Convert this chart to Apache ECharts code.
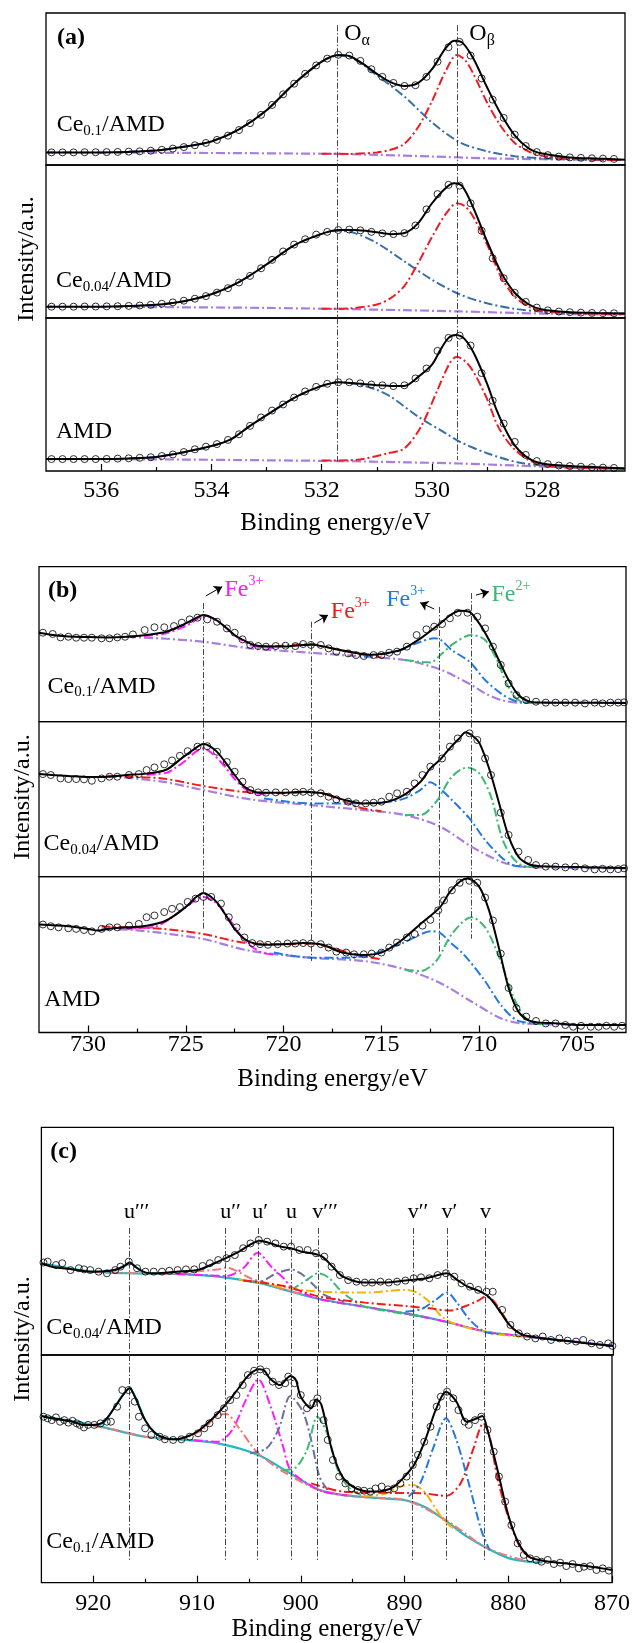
<!DOCTYPE html>
<html>
<head>
<meta charset="utf-8">
<script src="https://cdn.jsdelivr.net/npm/echarts@6/dist/echarts.min.js"></script>
<style>
html, body { margin: 0; padding: 0; background: #fff; }
#main { width: 633px; height: 1643px; }
</style>
</head>
<body>
<div id="main"></div>
<script>
var FONT = '"Liberation Serif", "Times New Roman", serif';

// ---------- (a) O 1s ----------
var aDotE = [536.9, 536.7, 536.5, 536.3, 536.1, 535.9, 535.7, 535.5, 535.3, 535.1, 534.9, 534.7, 534.5, 534.3, 534.1,
  533.9, 533.7, 533.5, 533.3, 533.1, 532.9, 532.7, 532.5, 532.3, 532.1, 531.9, 531.7, 531.5, 531.3, 531.1, 530.9,
  530.7, 530.5, 530.3, 530.1, 529.9, 529.7, 529.5, 529.3, 529.1, 528.9, 528.7, 528.5, 528.3, 528.1, 527.9, 527.7,
  527.5, 527.3, 527.1, 526.9, 526.7];
var a1Dots = [8.3, 8.3, 8.3, 8.4, 8.4, 8.5, 8.6, 8.8, 9.0, 9.4, 10.0, 10.8, 11.8, 13.0, 14.5, 16.5, 19.3, 23.0, 27.5,
  33, 39.5, 46.5, 53.5, 60, 65.5, 70, 72.5, 72, 68.5, 63, 58, 54, 52, 52.5, 58, 68, 77.5, 81, 72, 57, 43, 31, 20,
  12.5, 8.5, 6.5, 5.5, 5, 4.7, 4.4, 4.2, 4.0];
var a2Dots = [7.4, 7.4, 7.4, 7.5, 7.5, 7.6, 7.7, 7.9, 8.2, 8.6, 9.3, 10.2, 11.3, 12.6, 14.3, 16.6, 19.5, 23.2, 27.5,
  32.5, 38, 43.5, 48, 51.5, 54.5, 56.3, 57.5, 57.8, 57.3, 56.3, 55.3, 54.8, 55.5, 60.5, 71, 81, 87, 86.5, 75, 57, 39,
  26, 16.5, 10.5, 6.8, 5, 4.2, 3.8, 3.5, 3.3, 3.2, 3.1];
var a3Dots = [7.8, 7.8, 7.8, 7.8, 7.8, 7.9, 8.1, 8.3, 8.6, 9.0, 9.8, 10.8, 12.4, 14.2, 15.9, 17.6, 20.3, 24, 29.5, 35,
  39.5, 43.5, 48, 52, 55, 57, 58, 58, 57.3, 56.5, 56, 55.5, 56, 60.5, 67, 78.5, 87, 88.5, 82, 64, 46, 31, 19, 10.5,
  6.5, 4.5, 3.6, 3.2, 2.8, 2.5, 2.2, 2.0];

var a1Fit = [[537, 8.3], [536, 8.3], [535, 9.6], [534.5, 12], [534, 15.5], [533.5, 23.5], [533, 36], [532.5, 53.5],
  [532, 68], [531.7, 72.4], [531.5, 71.7], [531.25, 66.5], [531, 60], [530.75, 54.5], [530.5, 52], [530.25, 54],
  [530, 63], [529.75, 77], [529.6, 81.8], [529.45, 80.5], [529.25, 70], [529, 51], [528.75, 33.5], [528.5, 19.5],
  [528.25, 11], [528, 7.5], [527.5, 5], [527, 4.2], [526.5, 3.5]];
var a1Oa = [[535.5, 8.8], [535, 9.6], [534.5, 12], [534, 15.5], [533.5, 23.5], [533, 36], [532.5, 53.5], [532, 68],
  [531.7, 72], [531.4, 69.5], [531, 59], [530.5, 45], [530, 28], [529.5, 15], [529, 9], [528.5, 5.8], [528, 4.4],
  [527.5, 3.8], [527, 3.4], [526.5, 3.2]];
var a1Ob = [[532, 7.4], [531.5, 7.3], [531, 8.3], [530.75, 10], [530.5, 14], [530.25, 25], [530, 42], [529.75, 62],
  [529.55, 72.4], [529.4, 69], [529.25, 60], [529, 41], [528.75, 25.5], [528.5, 14.5], [528.25, 9], [528, 6],
  [527.5, 4.3], [527, 3.5], [526.5, 3.2]];
var a1Bg = [[537, 8.3], [534, 7.9], [532, 7.4], [531, 6.7], [530, 5.6], [529, 4.4], [528, 3.8], [526.5, 3.3]];

var a2Fit = [[537, 7.4], [536, 7.4], [535.5, 7.8], [535, 8.6], [534.5, 11], [534, 15.5], [533.5, 23.5], [533, 35],
  [532.5, 47.5], [532, 55], [531.7, 57.5], [531.4, 57.5], [531, 56], [530.75, 54.8], [530.5, 55.5], [530.25, 62],
  [530, 75], [529.75, 85], [529.6, 88], [529.45, 86], [529.25, 72], [529, 50], [528.75, 30], [528.5, 16.5],
  [528.25, 9], [528, 5.5], [527.5, 3.8], [527, 3.3], [526.5, 3]];
var a2Oa = [[535.5, 7.8], [535, 8.6], [534.5, 11], [534, 15.5], [533.5, 23.5], [533, 35], [532.5, 47.5], [532, 55],
  [531.7, 57], [531.4, 55.5], [531, 49], [530.5, 37], [530, 25], [529.5, 15.5], [529, 9.6], [528.5, 6], [528, 4.2],
  [527.5, 3.5], [527, 3.1], [526.5, 2.9]];
var a2Ob = [[532, 6], [531.5, 6.3], [531, 8.8], [530.75, 13], [530.5, 21], [530.25, 36], [530, 53], [529.75, 68],
  [529.55, 75], [529.4, 73], [529.25, 66], [529, 48], [528.75, 27], [528.5, 14], [528.25, 7.5], [528, 4.5],
  [527.5, 3.2], [527, 2.7], [526.5, 2.5]];
var a2Bg = [[537, 7.4], [535, 7.1], [533, 6.6], [531.7, 5.9], [530.5, 5.1], [529.5, 4.3], [528.5, 3.3], [527.5, 2.6],
  [526.5, 2.2]];

var a3Fit = [[537, 7.8], [536, 7.8], [535.5, 8.2], [535, 9.2], [534.5, 12.3], [534, 16.3], [533.65, 20.7],
  [533.3, 29.5], [532.85, 40], [532.45, 48.8], [532.05, 55], [531.7, 58], [531.4, 57.3], [531, 56.1], [530.7, 55.5],
  [530.5, 55.6], [530.25, 61.5], [530, 69.5], [529.85, 79], [529.7, 87], [529.57, 88.9], [529.42, 86.7],
  [529.24, 77], [529, 57], [528.83, 40], [528.6, 22.4], [528.43, 13.7], [528.2, 7.2], [527.95, 4.6], [527.5, 3.3],
  [527, 2.5], [526.5, 1.7]];
var a3Oa = [[535.5, 8.2], [535, 9.2], [534.5, 12.3], [534, 16.3], [533.65, 20.7], [533.3, 29.5], [532.85, 40],
  [532.45, 48.8], [532.05, 55], [531.7, 58], [531.4, 57], [531, 53], [530.75, 48.6], [530.25, 35.5], [529.75, 24.6],
  [529.5, 19.2], [529, 11.6], [528.4, 5.4], [527.5, 2.4], [527, 1.8], [526.5, 1.6]];
var a3Ob = [[532, 6.8], [531.4, 7.2], [530.8, 11.6], [530.5, 14.8], [530.2, 29], [529.9, 53], [529.68, 70.4],
  [529.55, 74.7], [529.31, 68.2], [529.02, 48.6], [528.8, 29], [528.55, 15.9], [528.25, 7.2], [527.9, 3.3],
  [527.5, 2.2], [527, 1.8], [526.5, 1.6]];
var a3Bg = [[537, 7.8], [535, 7.6], [533, 7.0], [531.7, 6.5], [530.5, 5.7], [529.5, 4.9], [528.5, 3.6], [527.5, 2.4],
  [526.5, 1.7]];

// ---------- (b) Fe 2p ----------
var b1Dots = [[732.3, 57.4], [731.8, 56.6], [731.4, 54.4], [731.0, 54.8], [730.6, 54.2], [730.2, 54.2], [729.8, 54.2],
  [729.3, 53.8], [728.9, 53.8], [728.5, 54.4], [728.1, 54.8], [727.7, 56.3], [727.1, 59.1], [726.6, 60.9],
  [726.1, 60.9], [725.6, 61.7], [725.2, 63.9], [724.8, 66.0], [724.4, 67.1], [723.9, 66.0], [723.4, 64.5],
  [722.9, 60.2], [722.5, 57.4], [722.1, 53.1], [721.7, 49.5], [721.3, 48.8], [720.9, 48.4], [720.4, 48.8],
  [719.9, 49.0], [719.4, 48.8], [719.0, 50.1], [718.6, 49.5], [718.1, 49.5], [717.7, 47.3], [717.3, 45.2],
  [716.7, 44.1], [716.3, 43.0], [715.9, 42.4], [715.4, 43.0], [715.0, 43.0], [714.6, 44.5], [714.2, 45.2],
  [713.7, 48.4], [713.2, 55.9], [712.7, 59.6], [712.3, 61.3], [711.9, 63.0], [711.5, 66.7], [711.1, 70.3],
  [710.6, 70.3], [710.1, 67.7], [709.7, 60.2], [709.3, 48.4], [708.9, 36.6], [708.5, 24.7], [708.1, 17.2],
  [707.6, 14.0], [707.1, 12.9], [706.6, 12.3], [706.1, 12.3], [705.6, 12.3], [705.1, 12.3], [704.6, 11.8],
  [704.1, 12.3], [703.7, 11.8], [703.3, 12.3], [702.9, 12.3], [702.6, 12.5]];
var b1Fit = [[732.5, 57.4], [731.5, 55.5], [730, 54.6], [729, 54.4], [728, 54.8], [727, 56], [726, 58], [725, 63.4],
  [724.5, 66.7], [724.1, 68.8], [723.5, 66], [723, 61.3], [722.5, 55.9], [722, 52.3], [721.5, 49.5], [721, 48.6],
  [720, 48.5], [719, 49.5], [718.5, 49.6], [718, 48.6], [717, 46], [716, 43.7], [715.5, 43.2], [715, 43.7],
  [714, 46.4], [713, 53.8], [712, 63.4], [711.5, 68.5], [711, 71.6], [710.5, 70.8], [710, 63.4], [709.5, 52.7],
  [709, 39.8], [708.5, 26.9], [708, 17.2], [707.5, 13.3], [707, 12.4], [706, 12.3], [704, 12.3], [702.5, 12]];
var b1Bg = [[728, 54.8], [726, 53.5], [724.1, 51.6], [721.7, 47.3], [718.6, 44.5], [715.9, 41.9], [713.8, 39.8],
  [712, 33.8], [711.2, 29], [710.4, 23.7], [709.7, 18.3], [708.9, 14], [707.9, 12.3], [702.5, 12.3]];
var b1Sat1 = [[728, 54.8], [727, 55.5], [726, 57], [725, 61.7], [724.5, 65.5], [724.1, 68.2], [723.6, 66.5],
  [723, 61.3], [722.3, 53.8], [721.7, 49.5], [721.3, 48.4], [720.5, 47.6]];
var b1Sat2 = [[721.3, 48.4], [720.5, 48.6], [719.5, 49.6], [718.6, 50.1], [718, 48.6], [717, 46], [716.2, 43.8],
  [715.5, 42.5], [715, 41.5]];
var b1Fe3 = [[715.9, 42], [714.3, 45], [713, 51.6], [712.3, 53.8], [712, 53.1], [711.4, 46.2], [710.5, 38.7],
  [709.7, 26.9], [708.9, 18.3], [708.3, 14], [707.6, 12.3], [707, 12.3]];
var b1Fe2 = [[713.8, 39.8], [712.9, 38.5], [712.5, 38.2], [711.9, 44], [711.3, 50.5], [710.4, 55.9], [709.7, 52.7],
  [709.1, 39.8], [708.6, 24.7], [708.1, 15], [707.6, 12.3], [707, 12.3]];

var b2Dots = [[732.3, 66.2], [731.9, 65.6], [731.4, 63.4], [731.0, 63.0], [730.6, 63.0], [730.2, 62.8], [729.8, 61.9],
  [729.3, 63.4], [728.9, 64.5], [728.5, 64.5], [727.9, 65.6], [727.4, 66.2], [727.0, 68.8], [726.6, 70.5],
  [726.1, 72.5], [725.7, 75], [725.3, 78], [724.9, 81], [724.4, 83.9], [723.9, 84.2], [723.4, 80.6], [722.9, 74],
  [722.5, 67.7], [722.1, 61.3], [721.7, 55.9], [721.3, 54.4], [720.9, 54.2], [720.4, 54.4], [719.9, 54.4],
  [719.4, 54.4], [719.0, 54.8], [718.6, 54.4], [718.1, 53.8], [717.7, 51.6], [717.3, 49.9], [716.7, 48.4],
  [716.3, 47.3], [715.8, 47.3], [715.4, 47.7], [715.0, 48.4], [714.6, 51.6], [714.2, 53.8], [713.7, 54.8],
  [713.3, 60.2], [712.9, 65.6], [712.5, 71], [711.9, 76.3], [711.5, 83.9], [711.1, 89.2], [710.5, 92.5],
  [710.1, 88.2], [709.7, 76.3], [709.4, 65.6], [708.9, 41.3], [708.5, 26.9], [708.0, 16.1], [707.5, 10.8],
  [707.1, 7.5], [706.6, 6.5], [706.1, 6.5], [705.6, 6.0], [705.1, 6.5], [704.6, 5.4], [704.1, 4.7], [703.7, 5.1],
  [703.3, 4.7], [702.9, 4.9], [702.6, 5.4]];
var b2Fit = [[732.5, 66.2], [731, 65], [730, 64.3], [729, 64.5], [728, 65.6], [727, 66.5], [726, 69], [725.2, 76.5],
  [724.6, 82], [724.1, 85.6], [723.5, 81.7], [723, 74.2], [722.5, 65.6], [722, 58], [721.5, 54.8], [721, 54.2],
  [720, 54.2], [719, 54.8], [718, 53.8], [717, 49.9], [716, 47.3], [715, 47.7], [714, 51.6], [713, 61.3],
  [712.5, 69.9], [712, 75.5], [711.5, 83], [711, 89.5], [710.7, 93.2], [710.3, 90.5], [710, 86.5], [709.5, 70],
  [709, 48], [708.5, 26], [708, 13], [707.5, 8.2], [707, 6.9], [706, 6.5], [704, 6], [702.5, 5.6]];
var b2Bg = [[729, 65], [726.2, 61.3], [724.1, 55.9], [721.7, 49.9], [718.6, 46.2], [715.9, 43], [713.8, 39.8],
  [712, 32.3], [710.4, 19.4], [708.9, 9.7], [707.8, 6.5], [702.5, 5.4]];
var b2Sat1 = [[727, 65.8], [726, 67], [725.5, 70.5], [725, 75], [724.5, 80.5], [724.1, 82.8], [723.6, 79], [723, 71],
  [722.5, 63], [722, 57], [721.4, 53.5], [720.8, 53.5]];
var b2Sat2 = [[729, 65.2], [728, 64.5], [726.2, 63.4], [724.1, 58.5], [722.1, 54.8], [720, 53.8], [718.6, 54.4],
  [717.7, 52.5], [716.9, 48.4], [716.3, 45.2], [715.5, 43], [715, 42.3]];
var b2Fe3 = [[721, 50.5], [719.5, 48], [718.6, 47.3], [716.7, 47.3], [715.5, 47.5], [714.5, 48.5], [713.8, 50.5],
  [713, 56], [712.5, 61], [712.1, 58], [711.4, 49.5], [710.5, 37.6], [709.7, 23.7], [708.9, 12.9], [708.3, 7.5],
  [707.6, 6.5], [707, 6.3]];
var b2Fe2 = [[713.8, 39.8], [713, 39.8], [712.2, 48.4], [711.4, 64.5], [710.6, 70.5], [710, 66.7], [709.4, 51.6],
  [708.8, 23.7], [708.2, 10.8], [707.6, 6.5], [707, 6.3]];

var b3Dots = [[732.3, 69.3], [731.9, 68.2], [731.5, 67.5], [731.0, 66.9], [730.6, 66.5], [730.2, 65.8], [729.8, 64.9],
  [729.3, 66.5], [728.9, 67.5], [728.5, 67.5], [727.9, 68.6], [727.4, 69.7], [727.0, 74.0], [726.6, 75.1],
  [726.1, 77.3], [725.7, 79.4], [725.3, 80.5], [724.9, 83.8], [724.5, 85.9], [724.1, 87.0], [723.7, 87.0],
  [723.2, 82.7], [722.8, 74.0], [722.4, 67.5], [722.0, 61.0], [721.6, 57.4], [721.2, 56.7], [720.8, 56.3],
  [720.3, 56.7], [719.8, 57.1], [719.4, 57.1], [719.0, 57.4], [718.6, 57.1], [718.1, 56.7], [717.7, 54.5],
  [717.3, 51.9], [716.8, 51.3], [716.4, 50.2], [715.9, 50.2], [715.5, 50.6], [715.0, 51.3], [714.6, 54.5],
  [714.2, 57.8], [713.7, 61.0], [713.3, 63.2], [712.9, 68.6], [712.5, 72.3], [712.1, 78.4], [711.8, 84.8],
  [711.4, 91.3], [711.0, 96.1], [710.5, 97.4], [710.1, 96.1], [709.7, 86.6], [709.3, 71.9], [708.9, 50.6],
  [708.5, 28.6], [708.1, 15.6], [707.6, 10.2], [707.1, 7.4], [706.6, 5.8], [706.1, 5.8], [705.6, 4.8], [705.2, 3.7],
  [704.8, 4.3], [704.3, 3.7], [703.9, 3.7], [703.5, 4.3], [703.1, 3.7], [702.7, 4.3]];
var b3Fit = [[732.5, 69.3], [731, 68.2], [730, 66.5], [729.5, 65.4], [729, 66.5], [728, 67.5], [727, 68.5], [726, 71.9],
  [725, 80.5], [724.5, 86.6], [724.1, 89.6], [723.5, 84.8], [723, 76.2], [722.5, 66.5], [722, 60], [721.5, 57.1],
  [721, 56.3], [720, 56.7], [719, 57.4], [718, 56.3], [717, 51.3], [716, 49.8], [715, 51.3], [714, 58.9], [713, 69.7],
  [712, 80.5], [711.5, 90.3], [711, 96.8], [710.6, 98.9], [710, 93.5], [709.5, 78.4], [709, 54.5], [708.5, 28.6],
  [708, 13.4], [707.5, 8], [707, 6.5], [706, 5.8], [705, 4.8], [702.5, 4.8]];
var b3Bg = [[729.3, 66.5], [727.7, 65.8], [725.8, 63.2], [724.1, 60], [721.7, 52.4], [718.6, 48], [715.9, 45.9],
  [713.8, 40.5], [712, 31.8], [710.4, 19.9], [708.9, 9.1], [707.8, 5.8], [702.5, 4.8]];
var b3Sat1 = [[728, 66.8], [726.6, 67.8], [725.8, 73], [725, 80.5], [724.1, 87], [723.4, 82.7], [722.6, 69.7],
  [721.9, 57.8], [721.1, 51.3], [720.5, 50]];
var b3Sat2 = [[729.3, 68], [727.7, 67.5], [726.2, 66.5], [724.1, 63.2], [722.1, 57.8], [720, 56.7], [718.6, 57.1],
  [717.3, 53.5], [716.3, 50.2], [715.5, 48], [715, 47]];
var b3Fe3 = [[720.5, 51.3], [718.6, 48], [716.7, 48], [715.5, 50.2], [714, 57], [713, 63], [712.5, 65], [712, 64],
  [711.5, 58], [710.8, 50.2], [709.7, 32.9], [708.9, 17.7], [708.1, 8], [707.2, 5.8], [706.5, 5.5]];
var b3Fe2 = [[713.8, 40.5], [713, 39.4], [712.2, 45.9], [711.4, 63.2], [710.4, 74], [709.7, 67.5], [708.9, 45.9],
  [708.3, 24.2], [707.7, 10.2], [707.1, 5.8], [706.5, 5.5]];

// ---------- (c) Ce 3d ----------
var c1Dots = [[924.8, 40.6], [924.4, 41.0], [923.6, 39.5], [923.0, 40.3], [922.2, 37.3], [921.4, 38.1], [920.9, 37.6],
  [920.3, 37.3], [919.5, 36.6], [918.7, 35.9], [917.9, 37.3], [917.4, 38.8], [916.6, 41.0], [915.8, 38.1],
  [915.0, 36.6], [914.2, 36.6], [913.4, 36.6], [912.7, 37.0], [911.9, 37.3], [911.1, 37.6], [910.3, 37.6],
  [909.5, 39.1], [908.8, 40.3], [908.0, 41.7], [907.2, 42.5], [906.4, 43.9], [905.6, 46.9], [904.9, 49.0],
  [904.1, 50.5], [903.3, 49.8], [902.5, 49.0], [901.7, 47.6], [901.0, 47.6], [900.2, 46.1], [899.4, 46.1],
  [898.6, 44.7], [897.8, 43.2], [897.1, 38.8], [896.3, 35.1], [895.5, 32.9], [894.7, 32.2], [893.9, 31.8],
  [893.2, 31.8], [892.4, 32.2], [891.6, 31.8], [890.8, 32.2], [890.0, 32.7], [889.2, 33.7], [888.5, 34.1],
  [887.7, 33.7], [886.9, 35.1], [886.1, 35.9], [885.3, 34.4], [884.6, 31.5], [883.8, 30.0], [883.0, 28.6],
  [882.2, 27.8], [881.6, 27.8], [880.7, 19.8], [879.9, 13.2], [879.1, 9.5], [878.3, 8.1], [877.5, 7.3], [876.8, 8.1],
  [876.0, 6.6], [875.2, 7.3], [874.4, 6.3], [873.6, 5.9], [872.9, 6.6], [872.1, 5.1], [871.3, 4.4], [870.5, 5.1],
  [870.1, 4.0]];
var c1Fit = [[925, 40.3], [924, 38.8], [922, 37.6], [920, 36.6], [918, 37.3], [917, 39.1], [916.5, 40.6], [916, 38.8],
  [915, 36.3], [914, 35.9], [912, 36.6], [910, 37.3], [908, 41], [906, 45.4], [905, 48.3], [904, 50.2], [903, 49.1],
  [902, 47.6], [901, 46.9], [900, 45.4], [899, 44.7], [898, 43.2], [897, 38.8], [896, 34.4], [894, 31.8], [892, 31.8],
  [890, 32.7], [888, 33.7], [886.5, 35.6], [886, 35.9], [885, 32.9], [884, 30], [883, 28.3], [882, 25.6], [881, 19.8],
  [880, 13.2], [879, 9.5], [878, 8.1], [876, 6.9], [874, 5.9], [872, 4.8], [870, 4]];
var c1Bg = [[925, 40.3], [920, 36.6], [916.5, 35.9], [912.3, 35.6], [908, 34.4], [904, 31.5], [901, 27.8], [898.2, 24.5],
  [893.9, 21.2], [889.2, 17.6], [886.1, 14.6], [882.3, 10.2], [879.9, 8.8], [876, 6.9], [870, 4]];
var c1U3 = [[919, 36.5], [918, 37.2], [917.5, 38.2], [917, 39.5], [916.5, 40.7], [916, 39], [915.5, 37], [915, 36],
  [914, 35.7]];
var c1U2 = [[920, 36.6], [916, 35.9], [912, 35.6], [910.3, 36.6], [908, 37.6], [907.3, 38.4], [906.4, 37.3],
  [904.9, 33.7], [903.3, 31.5], [902, 29.2], [900, 26.8]];
var c1U1 = [[912, 35.6], [909, 35], [907.2, 34.7], [905.6, 38.1], [904.2, 44.9], [902.9, 38.8], [901.7, 33.7],
  [901, 30], [899.5, 26.5], [898, 24.3], [894, 21.2], [890, 18.2], [886, 14.5], [882, 10], [878, 8], [874, 6],
  [870, 4]];
var c1U = [[905, 32.5], [904.1, 32.2], [902.5, 35.6], [901, 37.6], [900, 35.6], [899, 31.5], [897.8, 26.4],
  [895.9, 23.5]];
var c1V3 = [[901, 28.5], [899.4, 33.2], [898.4, 35.9], [897.4, 34.1], [896.3, 28.6], [895.1, 24.2], [893.9, 21.2],
  [890, 18], [888, 16.6]];
var c1V2 = [[906, 33.2], [904, 31.8], [901.7, 29.7], [898.2, 27.8], [893.9, 27.4], [890, 28.6], [888.9, 27.4],
  [887.7, 23.4], [886.5, 16.8], [885, 13.2], [883, 11], [880.7, 8.8], [878, 8]];
var c1V = [[905.6, 32.7], [901.7, 30.3], [898.2, 25.6], [893.9, 23], [890, 21.5], [887.7, 20.5], [885.7, 19.5],
  [884.2, 21.5], [883, 23.9], [882.3, 25.6], [881.6, 24.2], [880.7, 18.3], [879.7, 11.7], [878.7, 8.8], [877.5, 8.1]];
var c1V1 = [[890, 19], [888.5, 20.1], [887.1, 24.2], [886, 27.4], [885, 22.7], [883.8, 15.4], [882.4, 10.2],
  [881, 9.2]];

var c2Dots = [[924.8, 72.9], [924.4, 72.2], [924.0, 71.4], [923.6, 72.6], [923.2, 70.7], [922.8, 71.4], [922.4, 70.3],
  [922.0, 71.1], [921.6, 70.0], [921.3, 69.3], [920.9, 68.2], [920.5, 69.3], [919.9, 69.3], [919.3, 70.0],
  [918.7, 70.7], [918.3, 70.7], [917.7, 77.3], [917.2, 84.6], [916.6, 84.6], [916.0, 79.5], [915.6, 72.9],
  [915.0, 67.8], [914.4, 64.9], [913.6, 64.1], [913.1, 63.0], [912.3, 62.7], [911.5, 63.0], [910.7, 64.1],
  [909.9, 65.6], [909.3, 67.8], [908.8, 70.0], [908.0, 73.6], [907.4, 76.6], [906.8, 80.2], [906.2, 82.4],
  [905.6, 86.8], [905.1, 91.2], [904.5, 93.1], [903.9, 93.7], [903.3, 92.7], [902.7, 88.3], [902.1, 86.8],
  [901.5, 87.6], [901.2, 90.5], [900.6, 87.6], [900.0, 82.4], [899.4, 76.6], [898.8, 78.8], [898.4, 81.0],
  [897.8, 71.4], [897.4, 62.7], [896.9, 53.9], [896.3, 46.6], [895.7, 43.6], [895.1, 41.4], [894.5, 40.7],
  [893.9, 40.4], [893.3, 40.0], [892.8, 41.4], [892.2, 42.2], [891.6, 41.0], [891.0, 41.4], [890.4, 43.6],
  [889.8, 46.6], [889.2, 51.7], [888.7, 56.1], [888.1, 61.9], [887.5, 68.5], [886.9, 77.3], [886.5, 81.7],
  [885.9, 83.9], [885.3, 81.0], [884.8, 75.8], [884.2, 70.7], [883.8, 69.3], [883.2, 71.4], [882.6, 72.9],
  [882.0, 67.1], [881.4, 57.5], [880.9, 46.6], [880.3, 35.6], [879.7, 25.3], [879.1, 17.3], [878.5, 12.2],
  [877.9, 10.7], [877.3, 10.0], [876.8, 9.2], [876.2, 10.0], [875.6, 8.2], [875.0, 8.8], [874.4, 7.3], [873.8, 8.2],
  [873.2, 6.3], [872.7, 7.0], [872.1, 7.3], [871.5, 5.6], [870.9, 6.3], [870.3, 5.3]];
var c2Fit = [[925, 73.2], [924, 72.2], [922, 70.7], [921, 69.3], [920, 69.3], [919, 70.7], [918, 76.6], [917, 83.2],
  [916.5, 85.4], [916, 81.7], [915, 71.4], [914, 65.6], [913, 63.4], [912, 63], [911, 64.1], [910, 66.3], [909, 70],
  [908, 74.4], [907, 79.5], [906, 85.4], [905, 91.2], [904, 93.7], [903.5, 93.1], [903, 89.8], [902, 86.8],
  [901, 90.8], [900.5, 89.3], [900, 81.7], [899, 76.6], [898.5, 80.5], [898, 78], [897, 58.3], [896, 46.6],
  [895, 42.2], [894, 40.4], [893, 40], [892, 40.4], [891, 42.2], [890, 46.6], [889, 52.4], [888, 62.7], [887, 75.8],
  [886, 83.9], [885, 79.5], [884, 70.7], [883, 72.2], [882.5, 73.2], [882, 67.1], [881, 48.8], [880, 29.7],
  [879, 17.3], [878, 11.4], [877, 10], [876, 9.2], [874, 8.2], [872, 7], [870, 5.6]];
var c2Bg = [[925, 73.2], [920, 69.3], [918, 67.1], [915, 64.1], [912, 63], [908, 61.2], [904.1, 56.1], [901, 48],
  [898.2, 40.7], [895.9, 38.5], [892, 37], [890, 36.3], [888.1, 33.4], [886.1, 27.5], [884.2, 20.9], [882, 15.1],
  [879.9, 10.7], [878, 9.2], [876.7, 8.8]];
var c2U3 = [[920, 69.3], [919, 70.3], [918, 76.6], [917.3, 81.7], [916.5, 85.4], [915.8, 80.2], [915, 71.4],
  [914.2, 66.3], [913, 63.4], [912, 63]];
var c2U2 = [[920, 68.8], [918, 67.3], [915, 64.1], [911.9, 63], [909.5, 67.1], [908, 73.6], [907.2, 74.1], [906, 68.2],
  [904.9, 61.2], [904.1, 56.8], [901.7, 48.8], [898.2, 40.7], [894, 37.6], [890, 36.3], [886, 27.5], [882, 15.1],
  [878, 9.2]];
var c2U1 = [[910.3, 62.7], [908, 61.9], [906.6, 67.1], [905.3, 80.2], [904.1, 89.3], [902.9, 77.3], [901.7, 59.7],
  [901, 49.5], [899.4, 43.6], [897.8, 40], [895.5, 38.3]];
var c2U = [[904.9, 56.8], [903.3, 59], [902.1, 67.8], [901, 82], [899.8, 75.1], [899, 62.7], [898.2, 46.6],
  [897.4, 40.7]];
var c2V3 = [[901.7, 49.5], [900.6, 50.2], [899.4, 58.3], [898.4, 72.9], [897.4, 64.9], [896.3, 48], [895.1, 40.7],
  [893.9, 38.1]];
var c2V2 = [[893.9, 38.1], [892, 38.9], [890.4, 42.2], [889.2, 42.9], [888.1, 40], [886.9, 31.9], [886.1, 26.8],
  [885, 23.1]];
var c2V = [[899, 43.6], [895.9, 40], [892, 39.5], [888.1, 39.2], [886, 38.1], [884.6, 43.6], [883.4, 58.3],
  [882.4, 70], [881.8, 64.1], [881, 45.1], [879.9, 27.5], [878.7, 14.3], [877.5, 10]];
var c2V1 = [[889.6, 37.8], [888.5, 43.6], [887.3, 58.3], [886, 72.2], [885, 62.7], [883.8, 43.6], [882.6, 23.1],
  [881.8, 14.3]];

// peak positions, tick values
var aLinesE = [531.72, 529.55];
var bLinesE = [724.1, 718.6, 712.05, 710.4];
var cLinesE = [916.53, 907.28, 904.19, 900.95, 898.42, 889.24, 886.0, 882.3];
var cPeakNames = ['u\u2032\u2032\u2032', 'u\u2032\u2032', 'u\u2032', 'u', 'v\u2032\u2032\u2032', 'v\u2032\u2032', 'v\u2032', 'v'];
var aMajor = [528, 530, 532, 534, 536], aMinor = [527, 529, 531, 533, 535];
var bMajor = [705, 710, 715, 720, 725, 730], bMinor = [707.5, 712.5, 717.5, 722.5, 727.5];
var cMajor = [870, 880, 890, 900, 910, 920], cMinor = [875, 885, 895, 905, 915];

// ---------- layout ----------
var PA = { left: 46, width: 579, tops: [13, 165, 318], heights: [152, 153, 153], min: 526.5, max: 537,
  major: aMajor, minor: aMinor, margin: 8, gap: 40 };
var PB = { left: 39, width: 587, tops: [566.7, 721.7, 876.7], heights: [155, 155, 155.8], min: 702.5, max: 732.5,
  major: bMajor, minor: bMinor, margin: 0.5, gap: 34 };
var PC = { left: 41.4, width: 572, tops: [1127.3, 1355], heights: [227.7, 227.7], min: 870, max: 925,
  major: cMajor, minor: cMinor, margin: 9, gap: 33 };

var COL = {
  oa: '#3a6ea8', ob: '#ee1d23', bg: '#a97ee0',
  mag: '#ff1aff', red: '#f01c1c', blue: '#2479e3', green: '#3cba74',
  cyan: '#22b8c4', salmon: '#f07a78', slate: '#6a6ea0', orange: '#f5b400'
};
var DD = [9, 3, 2, 3];

var grids = [], xAxes = [], yAxes = [], series = [], graphics = [];

function addGrid(p, i) {
  var gi = grids.length;
  var last = i === p.tops.length - 1;
  grids.push({ left: p.left, top: p.tops[i], width: p.width, height: p.heights[i], show: true,
    borderColor: '#000', borderWidth: 1.3, backgroundColor: 'rgba(0,0,0,0)' });
  var xi = xAxes.length;
  xAxes.push({
    gridIndex: gi, type: 'value', position: 'bottom', min: p.min, max: p.max, inverse: true,
    axisLine: { show: false }, splitLine: { show: false },
    axisTick: { show: last, inside: true, length: 7, customValues: p.major, lineStyle: { color: '#000', width: 1.2 } },
    axisLabel: { show: last, customValues: p.major, margin: p.margin, color: '#000', fontSize: 24, fontFamily: FONT },
    name: last ? 'Binding energy/eV' : '', nameLocation: 'middle', nameGap: p.gap,
    nameTextStyle: { color: '#000', fontSize: 25, fontFamily: FONT }
  });
  if (last) {
    xAxes.push({
      gridIndex: gi, type: 'value', position: 'bottom', min: p.min, max: p.max, inverse: true,
      axisLine: { show: false }, splitLine: { show: false }, axisLabel: { show: false },
      axisTick: { show: true, inside: true, length: 4, customValues: p.minor, lineStyle: { color: '#000', width: 1.2 } }
    });
  }
  yAxes.push({ gridIndex: gi, type: 'value', min: 0, max: 100, show: false });
  return { xi: xi, yi: yAxes.length - 1 };
}

function curve(ax, data, color, dash, width, z, markLine) {
  var s = { type: 'line', xAxisIndex: ax.xi, yAxisIndex: ax.yi, data: data, smooth: 0.3, symbol: 'none',
    silent: true, z: z || 2, lineStyle: { color: color, width: width || 1.8, type: dash || 'solid' } };
  if (markLine) s.markLine = markLine;
  series.push(s);
}
function dots(ax, data, size) {
  series.push({ type: 'scatter', xAxisIndex: ax.xi, yAxisIndex: ax.yi, data: data, symbol: 'circle',
    symbolSize: size || 7, silent: true, z: 4,
    itemStyle: { color: 'rgba(255,255,255,0)', borderColor: '#000', borderWidth: 1 } });
}
function vlines(list) {
  return { silent: true, symbol: ['none', 'none'], label: { show: false },
    lineStyle: { color: '#333', width: 0.9, type: [6, 2, 1.5, 2] },
    data: list.map(function (l) { return [{ coord: [l[0], l[1]] }, { coord: [l[0], l[2]] }]; }) };
}
function span(es, y0, y1) { return es.map(function (e) { return [e, y0, y1]; }); }

// ---------- panel (a) ----------
var a1 = addGrid(PA, 0), a2 = addGrid(PA, 1), a3 = addGrid(PA, 2);
[[a1, a1Fit, a1Oa, a1Ob, a1Bg, a1Dots, span(aLinesE, 92, 0)],
 [a2, a2Fit, a2Oa, a2Ob, a2Bg, a2Dots, span(aLinesE, 100, 0)],
 [a3, a3Fit, a3Oa, a3Ob, a3Bg, a3Dots, [[aLinesE[0], 100, 6.1], [aLinesE[1], 100, 7.2]]]].forEach(function (r) {
  curve(r[0], r[4], COL.bg, DD, 2.2, 2);
  curve(r[0], r[2], COL.oa, DD, 2, 2);
  curve(r[0], r[3], COL.ob, DD, 2, 2);
  curve(r[0], r[1], '#000', 'solid', 2, 3, vlines(r[6]));
  dots(r[0], aDotE.map(function (e, i) { return [e, r[5][i]]; }), 7);
});

// ---------- panel (b) ----------
var b1 = addGrid(PB, 0), b2 = addGrid(PB, 1), b3 = addGrid(PB, 2);
var arrowsB = { silent: true, label: { show: false }, lineStyle: { color: '#000', width: 1, type: 'solid' },
  data: [
    [{ coord: [723.98, 81.1], symbol: 'none' }, { coord: [723.14, 87.1], symbol: 'arrow', symbolSize: 8 }],
    [{ coord: [718.43, 63.7], symbol: 'none' }, { coord: [717.73, 68.8], symbol: 'arrow', symbolSize: 8 }],
    [{ coord: [712.3, 72.7], symbol: 'none' }, { coord: [713.02, 76.8], symbol: 'arrow', symbolSize: 8 }],
    [{ coord: [710.17, 81.7], symbol: 'none' }, { coord: [709.51, 83.9], symbol: 'arrow', symbolSize: 8 }]
  ] };
var bTop = [76.6, 64.5, 74, 83], bBot = [66.7, 45.9, 51.3, 60.2];
[[b1, b1Fit, b1Bg, b1Sat1, b1Sat2, b1Fe3, b1Fe2, b1Dots, bLinesE.map(function (e, i) { return [e, bTop[i], 0]; })],
 [b2, b2Fit, b2Bg, b2Sat1, b2Sat2, b2Fe3, b2Fe2, b2Dots, span(bLinesE, 100, 0)],
 [b3, b3Fit, b3Bg, b3Sat1, b3Sat2, b3Fe3, b3Fe2, b3Dots, bLinesE.map(function (e, i) { return [e, 100, bBot[i]]; })]].forEach(function (r, k) {
  curve(r[0], r[2], COL.bg, DD, 2.2, 2, k === 0 ? arrowsB : null);
  curve(r[0], r[4], COL.red, DD, 2, 2);
  curve(r[0], r[3], COL.mag, DD, 2, 2);
  curve(r[0], r[5], COL.blue, DD, 2, 2);
  curve(r[0], r[6], COL.green, DD, 2, 2);
  curve(r[0], r[1], '#000', 'solid', 2, 3, vlines(r[8]));
  dots(r[0], r[7], 7);
});

// ---------- panel (c) ----------
var c1 = addGrid(PC, 0), c2 = addGrid(PC, 1);
[[c1, c1Fit, c1Bg, c1U3, c1U2, c1U1, c1U, c1V3, c1V2, c1V, c1V1, c1Dots, span(cLinesE, 55.8, 0)],
 [c2, c2Fit, c2Bg, c2U3, c2U2, c2U1, c2U, c2V3, c2V2, c2V, c2V1, c2Dots, span(cLinesE, 100, 10)]].forEach(function (r) {
  curve(r[0], r[2], COL.cyan, 'solid', 2.2, 2);
  curve(r[0], r[4], COL.salmon, DD, 2, 2);
  curve(r[0], r[5], COL.mag, DD, 2, 2);
  curve(r[0], r[6], COL.slate, DD, 2, 2);
  curve(r[0], r[7], COL.green, DD, 2, 2);
  curve(r[0], r[8], COL.orange, DD, 2, 2);
  curve(r[0], r[9], COL.red, DD, 2, 2);
  curve(r[0], r[10], COL.blue, DD, 2, 2);
  curve(r[0], r[3], COL.cyan, 'solid', 2, 2);
  curve(r[0], r[1], '#000', 'solid', 2, 3, vlines(r[12]));
  dots(r[0], r[11], 7);
});

var chart = echarts.init(document.getElementById('main'));
chart.setOption({ animation: false, backgroundColor: '#fff', grid: grids, xAxis: xAxes, yAxis: yAxes, series: series });

// ---------- text ----------
var mctx = document.createElement('canvas').getContext('2d');
function textW(t, size, weight) {
  mctx.font = (weight || 'normal') + ' ' + size + 'px ' + FONT;
  return mctx.measureText(t).width;
}
// parts: [text, size, dy, weight]
function label(x, y, parts, color) {
  var cx = x;
  parts.forEach(function (p) {
    var s = p[1] || 24;
    graphics.push({ type: 'text', x: cx, y: y + (p[2] || 0), silent: true, z: 10,
      style: { text: p[0], fontSize: s, fontFamily: FONT, fontWeight: p[3] || 'normal',
        fill: color || '#000', align: 'left', verticalAlign: 'middle' } });
    cx += textW(p[0], s, p[3]);
  });
}
function px(ax, e, v) { return chart.convertToPixel({ xAxisIndex: ax.xi, yAxisIndex: ax.yi }, [e, v]); }
function sample(x, y, sub) { label(x, y, [['Ce'], [sub, 15, 6], ['/AMD']]); }
function yTitle(x, y) {
  graphics.push({ type: 'text', x: x, y: y, rotation: Math.PI / 2, silent: true,
    style: { text: 'Intensity/a.u.', fontSize: 24, fontFamily: FONT, fill: '#000', align: 'center', verticalAlign: 'middle' } });
}

label(57, 38, [['(a)', 24, 0, 'bold']]);
label(px(a1, aLinesE[0], 0)[0] + 7, 34, [['O'], ['\u03b1', 16, 7]]);
label(px(a1, aLinesE[1], 0)[0] + 12.5, 34, [['O'], ['\u03b2', 16, 7]]);
sample(56.7, 125, '0.1');
sample(56, 281, '0.04');
label(56, 432, [['AMD']]);
yTitle(27, 259);

label(48, 591, [['(b)', 24, 0, 'bold']]);
label(224.4, 589.5, [['Fe'], ['3+', 14, -8]], '#ff1aff');
label(330.8, 611.5, [['Fe'], ['3+', 14, -8]], '#f01c1c');
label(386.2, 599.5, [['Fe'], ['3+', 14, -8]], '#2479e3');
label(491.5, 594.7, [['Fe'], ['2+', 14, -8]], '#3cba74');
sample(47.5, 686.5, '0.1');
sample(43.5, 844, '0.04');
label(44.3, 1000, [['AMD']]);
yTitle(23, 797);

label(50.3, 1152, [['(c)', 24, 0, 'bold']]);
cLinesE.forEach(function (e, i) {
  var x = px(c1, e, 0)[0] - textW(cPeakNames[i].charAt(0), 22) / 2;
  label(x, 1212, [[cPeakNames[i], 22]]);
});
sample(46.3, 1328, '0.04');
sample(46.3, 1542, '0.1');
yTitle(23, 1339);

chart.setOption({ graphic: graphics });
</script>
</body>
</html>
